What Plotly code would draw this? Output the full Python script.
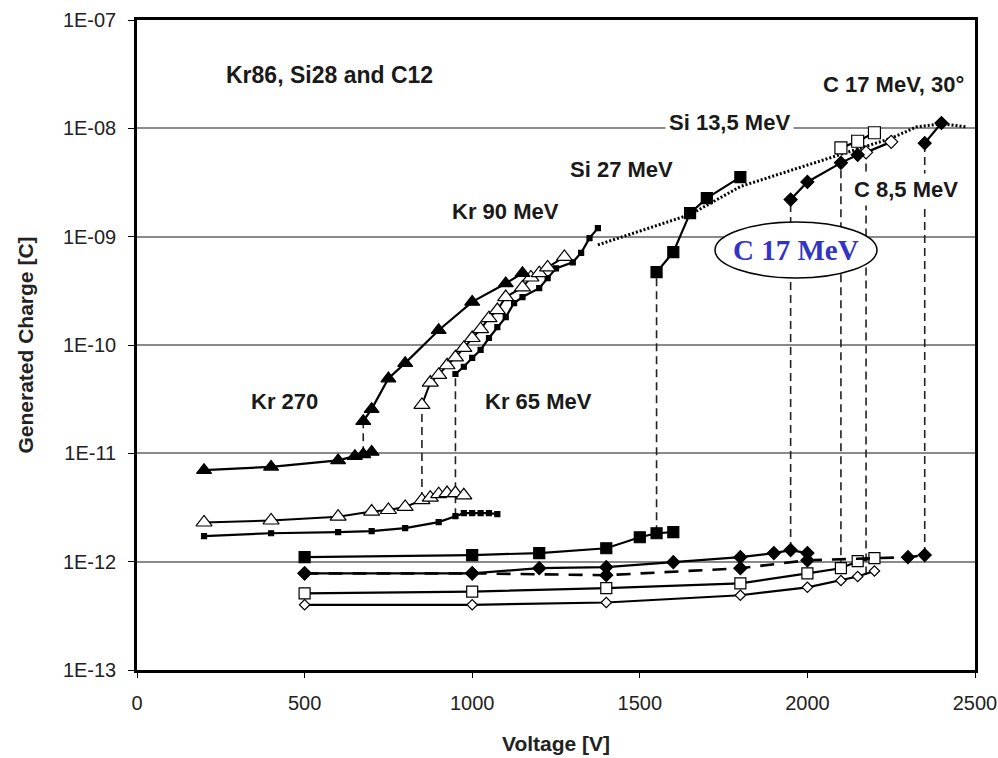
import plotly.graph_objects as go

# ---------------- data ----------------
kr270_v_low = [200, 400, 600, 650, 675, 700]
kr270_q_low = [7.0e-12, 7.5e-12, 8.6e-12, 9.4e-12, 9.8e-12, 1.03e-11]
kr270_v_high = [675, 700, 750, 800, 900, 1000, 1100, 1150]
kr270_q_high = [1.98e-11, 2.56e-11, 4.9e-11, 6.8e-11, 1.37e-10, 2.5e-10, 3.7e-10, 4.6e-10]

kr90_v_low = [200, 400, 600, 700, 750, 800, 850, 875, 900, 925, 950, 975]
kr90_q_low = [2.3e-12, 2.4e-12, 2.6e-12, 2.9e-12, 3.0e-12, 3.2e-12, 3.7e-12, 3.9e-12, 4.2e-12, 4.3e-12, 4.3e-12, 4.1e-12]
kr90_v_high = [850, 875, 900, 925, 950, 975, 1000, 1025, 1050, 1075, 1100, 1150, 1175, 1200, 1225, 1275]
kr90_q_high = [2.8e-11, 4.5e-11, 5.3e-11, 6.5e-11, 7.7e-11, 9.4e-11, 1.16e-10, 1.40e-10, 1.77e-10, 2.1e-10,
               2.77e-10, 3.4e-10, 4.2e-10, 4.6e-10, 5.2e-10, 6.5e-10]

kr65_v_low = [200, 400, 600, 700, 800, 900, 950, 975, 1000, 1025, 1050, 1075]
kr65_q_low = [1.72e-12, 1.83e-12, 1.87e-12, 1.91e-12, 2.04e-12, 2.32e-12, 2.63e-12, 2.8e-12, 2.8e-12, 2.8e-12, 2.8e-12, 2.75e-12]
kr65_v_high = [950, 975, 1000, 1025, 1050, 1075, 1100, 1125, 1150, 1200, 1225, 1250, 1300, 1325, 1350, 1375]
kr65_q_high = [5.4e-11, 6.3e-11, 7.6e-11, 9.0e-11, 1.16e-10, 1.46e-10, 1.81e-10, 2.44e-10, 2.77e-10, 3.35e-10,
               4.15e-10, 5.1e-10, 5.8e-10, 7.1e-10, 9.7e-10, 1.2e-9]

si27_v_low = [500, 1000, 1200, 1400, 1500, 1550, 1600]
si27_q_low = [1.10e-12, 1.15e-12, 1.20e-12, 1.33e-12, 1.68e-12, 1.83e-12, 1.87e-12]
si27_v_high = [1550, 1600, 1650, 1700, 1800]
si27_q_high = [4.7e-10, 7.2e-10, 1.65e-9, 2.27e-9, 3.55e-9]

c17_v_low = [500, 1000, 1200, 1400, 1600, 1800, 1900, 1950, 2000]
c17_q_low = [7.8e-13, 7.8e-13, 8.7e-13, 8.9e-13, 9.9e-13, 1.10e-12, 1.20e-12, 1.28e-12, 1.20e-12]
c17_v_high = [1950, 2000, 2100, 2150]
c17_q_high = [2.2e-9, 3.2e-9, 4.8e-9, 5.7e-9]

c30_v_low = [500, 1000, 1400, 1800, 2000, 2300, 2350]
c30_q_low = [7.8e-13, 7.8e-13, 7.5e-13, 8.7e-13, 1.03e-12, 1.10e-12, 1.15e-12]
c30_v_high = [2350, 2400]
c30_q_high = [7.3e-9, 1.12e-8]

si135_v_low = [500, 1000, 1400, 1800, 2000, 2100, 2150, 2200]
si135_q_low = [5.1e-13, 5.3e-13, 5.7e-13, 6.3e-13, 7.8e-13, 8.7e-13, 1.01e-12, 1.08e-12]
si135_v_high = [2100, 2150, 2200]
si135_q_high = [6.6e-9, 7.6e-9, 9.1e-9]

c85_v_low = [500, 1000, 1400, 1800, 2000, 2100, 2150, 2200]
c85_q_low = [4.0e-13, 4.0e-13, 4.2e-13, 4.9e-13, 5.8e-13, 6.7e-13, 7.3e-13, 8.2e-13]
c85_v_high = [2175, 2250]
c85_q_high = [6.0e-9, 7.5e-9]

trend_v = [1375, 1650, 1800, 2000, 2250, 2325, 2400, 2475]
trend_q = [8.4e-10, 1.6e-9, 2.9e-9, 4.6e-9, 8.1e-9, 1.03e-8, 1.1e-8, 1.03e-8]

# vertical "burnout" jumps: voltage, charge before, charge after
jump_v = [675, 850, 950, 1550, 1950, 2100, 2175, 2350]
jump_low = [9.8e-12, 3.7e-12, 2.63e-12, 1.83e-12, 1.28e-12, 8.7e-13, 7.6e-13, 1.15e-12]
jump_high = [1.98e-11, 2.8e-11, 5.4e-11, 4.7e-10, 2.2e-9, 6.6e-9, 6.0e-9, 7.3e-9]

x_ticks = [0, 500, 1000, 1500, 2000, 2500]
y_ticks = [1e-13, 1e-12, 1e-11, 1e-10, 1e-9, 1e-8, 1e-7]
y_ticktext = ["1E-13", "1E-12", "1E-11", "1E-10", "1E-09", "1E-08", "1E-07"]

# ---------------- figure ----------------
fig = go.Figure()
BLACK = "black"

# dashed vertical connectors (behind)
for v, lo, hi in zip(jump_v, jump_low, jump_high):
    fig.add_trace(go.Scatter(x=[v, v], y=[lo, hi], mode="lines",
                             line=dict(color="#222", width=1.6, dash="8px,5px"),
                             hoverinfo="skip", showlegend=False))

# dotted trend
fig.add_trace(go.Scatter(x=trend_v, y=trend_q, mode="lines",
                         line=dict(color=BLACK, width=3, dash="2px,2px"), showlegend=False))


def series(v, q, symbol, size, fill=BLACK, dash="solid", lw=2.2, mlw=1.2):
    fig.add_trace(go.Scatter(
        x=v, y=q, mode="lines+markers",
        line=dict(color=BLACK, width=lw, dash=dash),
        marker=dict(symbol=symbol, size=size, color=fill, line=dict(color=BLACK, width=mlw)),
        showlegend=False))


# open diamonds (C 8,5 MeV)
series(c85_v_low, c85_q_low, "diamond", 8, fill="white")
series(c85_v_high, c85_q_high, "diamond", 10, fill="white")
# open squares (Si 13,5 MeV)
series(si135_v_low, si135_q_low, "square", 11, fill="white")
series(si135_v_high, si135_q_high, "square", 12, fill="white")
# C 17 MeV 30 deg (dashed)
series(c30_v_low, c30_q_low, "diamond", 10, dash="14px,10px", lw=2.6)
series(c30_v_high, c30_q_high, "diamond", 10)
# C 17 MeV
series(c17_v_low, c17_q_low, "diamond", 10)
series(c17_v_high, c17_q_high, "diamond", 10)
# Si 27 MeV
series(si27_v_low, si27_q_low, "square", 11)
series(si27_v_high, si27_q_high, "square", 11)
# Kr 65 MeV
series(kr65_v_low, kr65_q_low, "square", 5)
series(kr65_v_high, kr65_q_high, "square", 5)
# Kr 90 MeV (open triangles)
series(kr90_v_low, kr90_q_low, "triangle-up", 14, fill="white", lw=2)
series(kr90_v_high, kr90_q_high, "triangle-up", 14, fill="white", lw=2)
# Kr 270 (filled triangles)
series(kr270_v_low, kr270_q_low, "triangle-up", 13)
series(kr270_v_high, kr270_q_high, "triangle-up", 13)

# ---------------- layout ----------------
L, R, T, B = 137, 23, 20, 88
W, H = 998, 758
PW, PH = W - L - R, H - T - B


def px(xp):
    return (xp - L) / PW


def py(yp):
    return (H - B - yp) / PH


FONT = "Arial, Liberation Sans, sans-serif"
labels = [
    ("Kr86, Si28 and C12", 329, 75, None, 23),
    ("Kr 90 MeV", 505, 212, None, 22),
    ("Si 27 MeV", 621, 170, None, 22),
    ("Si 13,5 MeV", 729, 122, "white", 22),
    ("C 17 MeV, 30°", 893, 85, None, 22),
    ("C 8,5 MeV", 906, 190, "white", 22),
    ("Kr 270", 284, 401, None, 22),
    ("Kr 65 MeV", 538, 401, None, 22),
]
annotations = []
for text, xp, yp, bg, fs in labels:
    a = dict(text="<b>" + text + "</b>", x=px(xp), y=py(yp), xref="paper", yref="paper",
             showarrow=False, xanchor="center", yanchor="middle",
             font=dict(family=FONT, size=fs, color="#1a1a1a"))
    if bg:
        a.update(bgcolor=bg, borderpad=3)
    annotations.append(a)

annotations.append(dict(text="<b>C 17 MeV</b>", x=px(796), y=py(250), xref="paper", yref="paper",
                        showarrow=False, xanchor="center", yanchor="middle",
                        font=dict(family="Liberation Serif, Times New Roman, serif", size=29, color="#3434c4")))

shapes = [dict(type="circle", xref="paper", yref="paper",
               x0=px(715), x1=px(877), y0=py(278), y1=py(222),
               fillcolor="white", line=dict(color=BLACK, width=1.5), layer="above")]

fig.update_layout(
    width=W, height=H,
    margin=dict(l=L, r=R, t=T, b=B, autoexpand=False),
    paper_bgcolor="white", plot_bgcolor="white",
    showlegend=False,
    annotations=annotations,
    shapes=shapes,
    font=dict(family=FONT, color="#222"),
    xaxis=dict(range=[0, 2500], tickvals=x_ticks, showgrid=False, zeroline=False, automargin=False,
               showline=True, linecolor=BLACK, linewidth=2.5, mirror=True,
               ticks="outside", ticklen=5, tickcolor=BLACK, tickwidth=1,
               tickfont=dict(size=20, color="#222"), ticklabelstandoff=8,
               title=dict(text="<b>Voltage [V]</b>", font=dict(size=21, color="#222"), standoff=24)),
    yaxis=dict(type="log", range=[-13, -7], tickvals=y_ticks, ticktext=y_ticktext, automargin=False,
               showgrid=True, gridcolor="#8a8a8a", gridwidth=1.5, zeroline=False,
               showline=True, linecolor=BLACK, linewidth=2.5, mirror=True,
               ticks="outside", ticklen=6, tickcolor=BLACK, tickwidth=1,
               tickfont=dict(size=20, color="#222"), ticklabelstandoff=8,
               title=dict(text="<b>Generated Charge [C]</b>", font=dict(size=21, color="#222"), standoff=24)),
)

fig.write_html("out.html")
